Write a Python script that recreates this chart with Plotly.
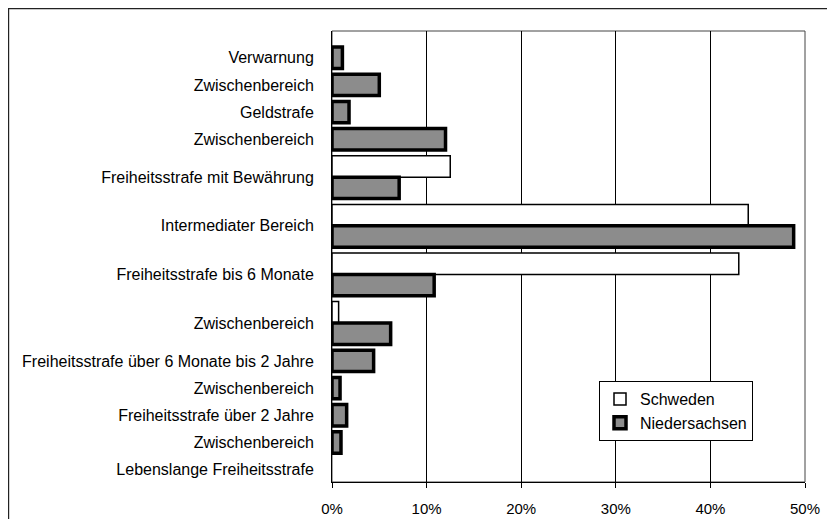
import plotly.graph_objects as go

# ---- data ----
categories = [
    "Verwarnung",
    "Zwischenbereich",
    "Geldstrafe",
    "Zwischenbereich",
    "Freiheitsstrafe mit Bewährung",
    "Intermediater Bereich",
    "Freiheitsstrafe bis 6 Monate",
    "Zwischenbereich",
    "Freiheitsstrafe über 6 Monate bis 2 Jahre",
    "Zwischenbereich",
    "Freiheitsstrafe über 2 Jahre",
    "Zwischenbereich",
    "Lebenslange Freiheitsstrafe",
]
schweden = [None, None, None, None, 12.5, 44.0, 43.0, 0.7, None, None, None, None, None]
niedersachsen = [1.1, 5.0, 1.8, 12.0, 7.1, 48.8, 10.8, 6.2, 4.4, 0.85, 1.55, 0.95, 0]
x_ticks = [0, 10, 20, 30, 40, 50]
x_tick_labels = ["0%", "10%", "20%", "30%", "40%", "50%"]

# ---- layout constants (bar thickness and gap in axis units) ----
BAR = 21.4
GAP = 5.8

# category bands: a band holds one bar, or two adjacent bars when Sweden has a value
s_y, s_x, n_y, n_x, centers = [], [], [], [], []
cursor = 0.0
for cat, sv, nv in zip(categories, schweden, niedersachsen):
    has_s = sv is not None
    band = GAP + BAR * (2 if has_s else 1)
    c = cursor + band / 2
    centers.append(c)
    if has_s:
        s_y.append(c - BAR / 2)
        s_x.append(sv)
        n_y.append(c + BAR / 2)
    else:
        n_y.append(c)
    n_x.append(nv)
    cursor += band

# no outline on zero-length bars
n_line_w = [3.5 if v else 0 for v in n_x]

FONT = "Liberation Sans, Arial, sans-serif"

# the page body adds an 8px offset; plot area is placed to compensate
ML, MT, MR, MB = 324, 23, 38, 45
PW = 835 - ML - MR
PH = 519 - MT - MB

fig = go.Figure()
fig.add_trace(go.Bar(
    name="Schweden", orientation="h", x=s_x, y=s_y, width=BAR,
    marker=dict(color="white", line=dict(color="black", width=1.5)),
))
fig.add_trace(go.Bar(
    name="Niedersachsen", orientation="h", x=n_x, y=n_y, width=BAR,
    marker=dict(color="#8c8c8c", line=dict(color="black", width=n_line_w)),
))

fig.update_layout(
    width=835, height=519,
    margin=dict(l=ML, r=MR, t=MT, b=MB),
    paper_bgcolor="white", plot_bgcolor="white",
    font=dict(family=FONT, size=16, color="black"),
    barmode="overlay",
    showlegend=True,
    legend=dict(
        x=(668 - ML) / PW, xanchor="center",
        y=(MT + PH - 403) / PH, yanchor="middle",
        bgcolor="white", bordercolor="black", borderwidth=1,
        font=dict(family=FONT, size=16, color="black"),
        itemwidth=30, tracegroupgap=0,
    ),
    xaxis=dict(
        range=[0, 50], tickmode="array", tickvals=x_ticks, ticktext=x_tick_labels,
        showgrid=True, gridcolor="black", gridwidth=1,
        showline=True, linecolor="black", linewidth=1,
        ticks="outside", ticklen=5, tickcolor="black",
        zeroline=False, ticklabelstandoff=8, automargin=False,
        tickfont=dict(family=FONT, size=15, color="black"),
    ),
    yaxis=dict(
        range=[cursor - 1.3, -13.1],
        tickmode="array", tickvals=centers, ticktext=categories,
        showgrid=False, zeroline=False, automargin=False,
        showline=True, linecolor="black", linewidth=1,
        ticks="", ticklabelstandoff=14,
        tickfont=dict(family=FONT, size=16, color="black"),
    ),
    shapes=[
        # plot-area border
        dict(type="rect", xref="paper", yref="paper", x0=0, x1=1, y0=0, y1=1,
             line=dict(color="#444", width=1), layer="below"),
        # outer chart border (runs off the right and bottom edges)
        dict(type="rect", xref="paper", yref="paper",
             x0=(0.6 - ML) / PW, x1=(845 - ML) / PW,
             y0=(MT + PH - 530) / PH, y1=(MT + PH - 0.6) / PH,
             line=dict(color="#222", width=1.2)),
    ],
)

fig.write_html("out.html")
